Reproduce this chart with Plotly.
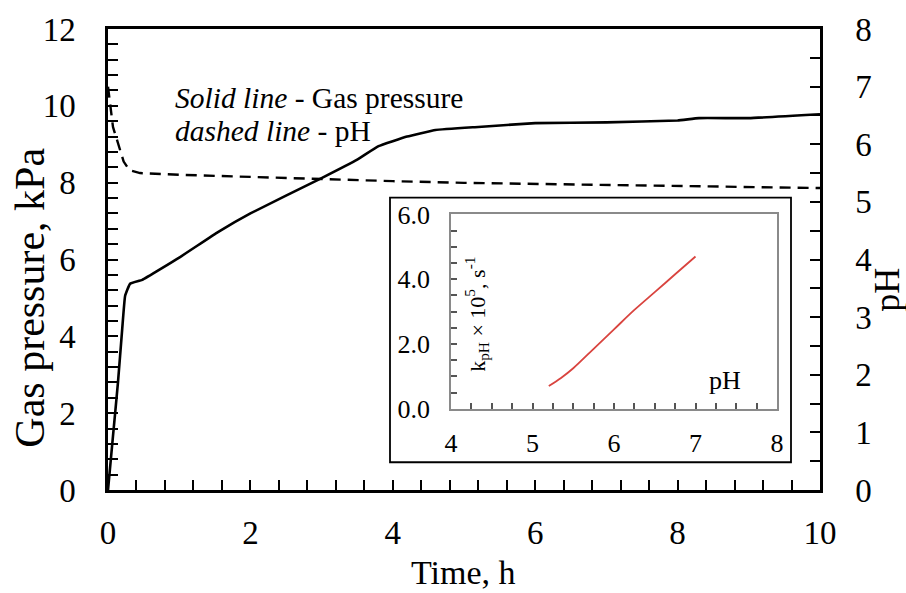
import plotly.graph_objects as go

# Main chart data
time_gas = [0, 0.07, 0.14, 0.2, 0.24, 0.31, 0.48, 1, 1.55, 2, 3, 3.5, 3.8, 4.2, 4.6, 5.2, 6, 7, 8, 8.3, 9, 10]
gas_pressure = [0, 1.4, 2.8, 4.2, 5.05, 5.37, 5.47, 6.05, 6.72, 7.2, 8.12, 8.6, 8.95, 9.2, 9.37, 9.45, 9.55, 9.57, 9.62, 9.68, 9.68, 9.78]

time_ph = [0, 0.03, 0.07, 0.12, 0.17, 0.22, 0.3, 0.45, 1, 2, 3, 4, 5, 6, 7, 8, 9, 10]
ph_values = [7.0, 6.7, 6.3, 6.1, 5.9, 5.7, 5.55, 5.5, 5.47, 5.43, 5.39, 5.36, 5.33, 5.31, 5.29, 5.27, 5.25, 5.24]

# Inset data
inset_ph = [5.2, 5.35, 5.5, 5.75, 6.0, 6.25, 6.5, 6.75, 7.0]
inset_k = [0.7, 0.95, 1.25, 1.85, 2.45, 3.05, 3.6, 4.15, 4.7]

main_ticks_x = [0, 2, 4, 6, 8, 10]
main_ticks_y = [0, 2, 4, 6, 8, 10, 12]
ph_ticks = [0, 1, 2, 3, 4, 5, 6, 7, 8]
inset_xticks = [4, 5, 6, 7, 8]
inset_yticks = [0, 2, 4, 6]
inset_yticklabels = ["0.0", "2.0", "4.0", "6.0"]

FONT = "Liberation Serif, Times New Roman, serif"
W, H = 906, 593
L, R, T, B = 108, 820, 25, 490

def px2paper_x(px):
    return (px - L) / (R - L)

def px2paper_y(py):
    return (B - py) / (B - T)

fig = go.Figure()
fig.add_trace(go.Scatter(x=time_gas, y=gas_pressure, mode="lines",
                         line=dict(color="black", width=2.6, shape="spline", smoothing=0.3),
                         xaxis="x", yaxis="y", showlegend=False))
fig.add_trace(go.Scatter(x=time_ph, y=ph_values, mode="lines",
                         line=dict(color="black", width=2.4, dash="11px,7px"),
                         xaxis="x", yaxis="y2", showlegend=False))
fig.add_trace(go.Scatter(x=inset_ph, y=inset_k, mode="lines",
                         line=dict(color="#d9443f", width=1.8, shape="spline"),
                         xaxis="x3", yaxis="y3", showlegend=False))

tickfont = dict(family=FONT, size=33, color="black")
small_font = dict(family=FONT, size=26, color="black")
tk = dict(ticks="inside", ticklen=10, tickwidth=2, tickcolor="black")

fig.update_layout(
    width=W, height=H,
    margin=dict(l=L, r=W - R, t=T, b=H - B),
    paper_bgcolor="white", plot_bgcolor="white",
    xaxis=dict(range=[0, 10], tickvals=main_ticks_x, showgrid=False, zeroline=False,
               showline=True, linecolor="black", linewidth=2.5, mirror=True,
               minor=dict(dtick=0.4, showgrid=False, **tk), **tk,
               tickfont=tickfont, ticklabelstandoff=12),
    yaxis=dict(range=[0, 12], tickvals=main_ticks_y, showgrid=False, zeroline=False,
               showline=True, linecolor="black", linewidth=2.5,
               minor=dict(dtick=0.4, showgrid=False, **tk), **tk,
               tickfont=tickfont, ticklabelstandoff=23),
    yaxis2=dict(range=[0, 8], tickvals=ph_ticks, overlaying="y", side="right",
                showgrid=False, zeroline=False,
                showline=True, linecolor="black", linewidth=2.5,
                minor=dict(dtick=0.5, showgrid=False, **tk), **tk,
                tickfont=tickfont, ticklabelstandoff=26),
    xaxis3=dict(domain=[px2paper_x(451), px2paper_x(777)], anchor="y3",
                range=[4, 8], tickvals=inset_xticks, showgrid=False, zeroline=False,
                showline=True, linecolor="#8a8a8a", linewidth=1.5, mirror=True,
                ticks="inside", ticklen=6, tickwidth=1.5, tickcolor="#555",
                minor=dict(dtick=0.25, ticks="inside", ticklen=6, tickwidth=1.5, tickcolor="#555", showgrid=False),
                tickfont=small_font, ticklabelstandoff=10),
    yaxis3=dict(domain=[px2paper_y(408), px2paper_y(212)], anchor="x3",
                range=[0, 6], tickvals=inset_yticks, ticktext=inset_yticklabels,
                showgrid=False, zeroline=False,
                showline=True, linecolor="#8a8a8a", linewidth=1.5, mirror=True,
                ticks="inside", ticklen=6, tickwidth=1.5, tickcolor="#555",
                minor=dict(dtick=0.5, ticks="inside", ticklen=6, tickwidth=1.5, tickcolor="#555", showgrid=False),
                tickfont=small_font, ticklabelstandoff=14),
    shapes=[dict(type="rect", xref="paper", yref="paper",
                 x0=px2paper_x(390), x1=px2paper_x(791),
                 y0=px2paper_y(462), y1=px2paper_y(195),
                 line=dict(color="black", width=1.8), fillcolor="white", layer="below")],
    annotations=[
        dict(xref="paper", yref="paper", x=px2paper_x(173), y=px2paper_y(95),
             xanchor="left", yanchor="middle", showarrow=False,
             text="<i>Solid line</i> - Gas pressure",
             font=dict(family=FONT, size=29.5, color="black")),
        dict(xref="paper", yref="paper", x=px2paper_x(173), y=px2paper_y(128),
             xanchor="left", yanchor="middle", showarrow=False,
             text="<i>dashed line</i> - pH",
             font=dict(family=FONT, size=29.5, color="black")),
        dict(xref="x3", yref="y3", x=4.32, y=2.9, textangle=-90,
             xanchor="center", yanchor="middle", showarrow=False,
             text="k<sub>pH</sub> × 10<sup>5</sup>, s<sup>-1</sup>",
             font=dict(family=FONT, size=22, color="black")),
        dict(xref="x3", yref="y3", x=7.36, y=0.86,
             xanchor="center", yanchor="middle", showarrow=False,
             text="pH", font=small_font),
        # axis titles
        dict(xref="paper", yref="paper", x=px2paper_x(463), y=px2paper_y(573),
             xanchor="center", yanchor="middle", showarrow=False,
             text="Time, h", font=dict(family=FONT, size=34, color="black")),
        dict(xref="paper", yref="paper", x=px2paper_x(30), y=px2paper_y(296),
             xanchor="center", yanchor="middle", showarrow=False, textangle=-90,
             text="Gas pressure, kPa", font=dict(family=FONT, size=42, color="black")),
        dict(xref="paper", yref="paper", x=px2paper_x(887), y=px2paper_y(288),
             xanchor="center", yanchor="middle", showarrow=False, textangle=-90,
             text="pH", font=dict(family=FONT, size=36, color="black")),
    ],
)

fig.write_html("out.html")
